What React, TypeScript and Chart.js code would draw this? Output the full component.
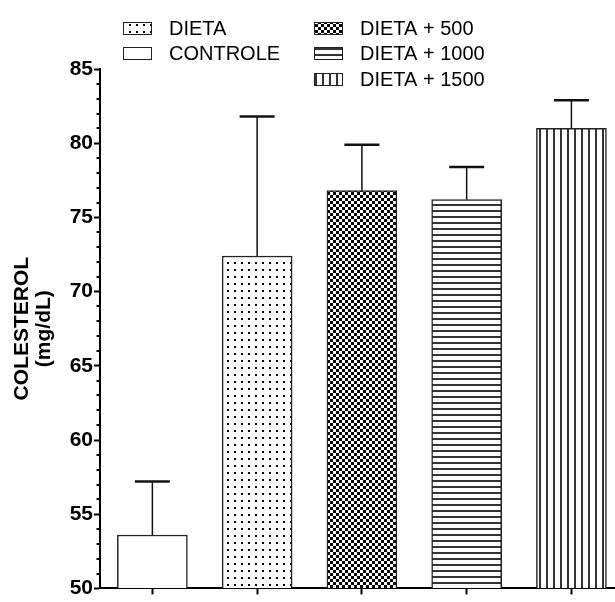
import { useEffect, useRef } from 'react';
import { Chart, registerables } from 'chart.js';

Chart.register(...registerables);

// ---- data ----
const categories = ['CONTROLE', 'DIETA', 'DIETA + 500', 'DIETA + 1000', 'DIETA + 1500'];
const positions = [0, 1, 2, 3, 4];
const means = [53.6, 72.4, 76.8, 76.2, 81.0];
const errorTops = [57.2, 81.8, 79.9, 78.4, 82.9];
const yTickValues = [50, 55, 60, 65, 70, 75, 80, 85];
const yAxisTitle = ['COLESTEROL', '(mg/dL)'];
const fills = ['none', 'dots', 'checker', 'hlines', 'vlines'];

const Y_MIN = 50;
const Y_MAX = 85;
const FONT = '"Liberation Sans", Arial, Helvetica, sans-serif';

function makePattern(kind: string): any {
  if (kind === 'none') return '#ffffff';
  const c = document.createElement('canvas');
  const ctx = c.getContext('2d')!;
  if (kind === 'dots') {
    c.width = 7; c.height = 7;
    ctx.fillStyle = '#fff'; ctx.fillRect(0, 0, 7, 7);
    ctx.fillStyle = '#000'; ctx.fillRect(3, 3, 2, 2);
  } else if (kind === 'checker') {
    c.width = 6; c.height = 6;
    ctx.fillStyle = '#000'; ctx.fillRect(0, 0, 6, 6);
    ctx.fillStyle = '#fff'; ctx.fillRect(0, 0, 3, 3); ctx.fillRect(3, 3, 3, 3);
  } else if (kind === 'hlines') {
    c.width = 6; c.height = 6;
    ctx.fillStyle = '#fff'; ctx.fillRect(0, 0, 6, 6);
    ctx.fillStyle = '#333'; ctx.fillRect(0, 0, 6, 2);
  } else if (kind === 'vlines') {
    c.width = 7; c.height = 7;
    ctx.fillStyle = '#fff'; ctx.fillRect(0, 0, 7, 7);
    ctx.fillStyle = '#333'; ctx.fillRect(0, 0, 2, 7);
  }
  return ctx.createPattern(c, 'repeat');
}

const errorBarPlugin = {
  id: 'errorBars',
  afterDatasetsDraw(chart: any) {
    const { ctx } = chart;
    const meta = chart.getDatasetMeta(0);
    const y = chart.scales.y;
    ctx.save();
    ctx.strokeStyle = '#111';
    meta.data.forEach((bar: any, i: number) => {
      const top = y.getPixelForValue(errorTops[i]);
      ctx.lineWidth = 1.5;
      ctx.beginPath();
      ctx.moveTo(bar.x, bar.y);
      ctx.lineTo(bar.x, top);
      ctx.stroke();
      const half = bar.width / 4;
      ctx.lineWidth = 2.5;
      ctx.beginPath();
      ctx.moveTo(bar.x - half, top);
      ctx.lineTo(bar.x + half, top);
      ctx.stroke();
    });
    ctx.restore();
  },
};

const minorTickPlugin = {
  id: 'minorTicks',
  afterDraw(chart: any) {
    const { ctx } = chart;
    const y = chart.scales.y;
    const x0 = chart.chartArea.left;
    ctx.save();
    ctx.strokeStyle = '#000';
    ctx.lineWidth = 2;
    for (let v = Math.ceil(y.min); v <= y.max; v++) {
      if (v % 5 === 0) continue;
      const py = Math.round(y.getPixelForValue(v));
      ctx.beginPath();
      ctx.moveTo(x0 - 3.5, py);
      ctx.lineTo(x0, py);
      ctx.stroke();
    }
    ctx.restore();
  },
};

const legendLayout = [
  { idx: 1, col: 0, row: 0 },
  { idx: 0, col: 0, row: 1 },
  { idx: 2, col: 1, row: 0 },
  { idx: 3, col: 1, row: 1 },
  { idx: 4, col: 1, row: 2 },
];

const legendPlugin = {
  id: 'customLegend',
  afterDraw(chart: any) {
    const { ctx } = chart;
    const bgs = chart.data.datasets[0].backgroundColor;
    const colX = [123, 314];
    const rowY = [28, 53, 79];
    ctx.save();
    ctx.font = `20px ${FONT}`;
    ctx.textBaseline = 'middle';
    ctx.textAlign = 'left';
    legendLayout.forEach((e) => {
      const x = colX[e.col];
      const yc = rowY[e.row];
      ctx.fillStyle = bgs[e.idx];
      ctx.fillRect(x, yc - 6, 28, 12);
      ctx.strokeStyle = '#222';
      ctx.lineWidth = 1;
      ctx.strokeRect(x + 0.5, yc - 6 + 0.5, 28, 12);
      ctx.fillStyle = '#000';
      ctx.fillText(chart.data.labels[e.idx], x + 46, yc + 1);
    });
    ctx.restore();
  },
};

export default function App() {
  const ref = useRef<HTMLCanvasElement>(null);
  useEffect(() => {
    if (!ref.current) return;
    const bgs = fills.map(makePattern);
    const chart = new Chart(ref.current, {
      type: 'bar',
      data: {
        labels: categories,
        datasets: [
          {
            data: positions.map((p, i) => ({ x: p, y: means[i] })),
            backgroundColor: bgs,
            borderColor: '#222',
            borderWidth: 1.5,
            barThickness: 70,
            base: Y_MIN,
          } as any,
        ],
      },
      options: {
        responsive: false,
        animation: false,
        devicePixelRatio: 1,
        layout: { padding: { top: 69, left: 0, right: 0, bottom: 0 } },
        plugins: {
          legend: { display: false },
          tooltip: { enabled: false },
        },
        scales: {
          x: {
            type: 'linear',
            min: -0.5,
            max: 4.416,
            offset: false,
            afterBuildTicks: (s: any) => {
              s.ticks = positions.map((v) => ({ value: v }));
            },
            afterFit: (s: any) => {
              s.height = 5;
            },
            ticks: { display: false },
            grid: {
              display: true,
              offset: false,
              drawOnChartArea: false,
              drawTicks: true,
              tickLength: 6,
              tickWidth: 2,
              tickColor: '#000',
              color: '#000',
            },
            border: { display: true, color: '#000', width: 2 },
          },
          y: {
            min: Y_MIN,
            max: Y_MAX,
            afterBuildTicks: (s: any) => {
              s.ticks = yTickValues.map((v) => ({ value: v }));
            },
            afterFit: (s: any) => {
              s.width = 100;
            },
            ticks: {
              color: '#000',
              padding: 1,
              font: { family: FONT, size: 21, weight: 'bold' },
            },
            grid: {
              display: true,
              drawOnChartArea: false,
              drawTicks: true,
              tickLength: 6,
              tickWidth: 2,
              tickColor: '#000',
            },
            border: { display: true, color: '#000', width: 2 },
            title: {
              display: true,
              text: yAxisTitle,
              color: '#000',
              padding: { top: 11, bottom: 0 },
              font: { family: FONT, size: 21, weight: 'bold', lineHeight: '22px' as any },
            },
          },
        },
      },
      plugins: [errorBarPlugin, minorTickPlugin, legendPlugin],
    } as any);
    return () => chart.destroy();
  }, []);
  return (
    <div style={{ position: 'absolute', left: 0, top: 0, width: 615, height: 602, background: '#fff' }}>
      <canvas ref={ref} width={615} height={602} style={{ display: 'block' }} />
    </div>
  );
}
